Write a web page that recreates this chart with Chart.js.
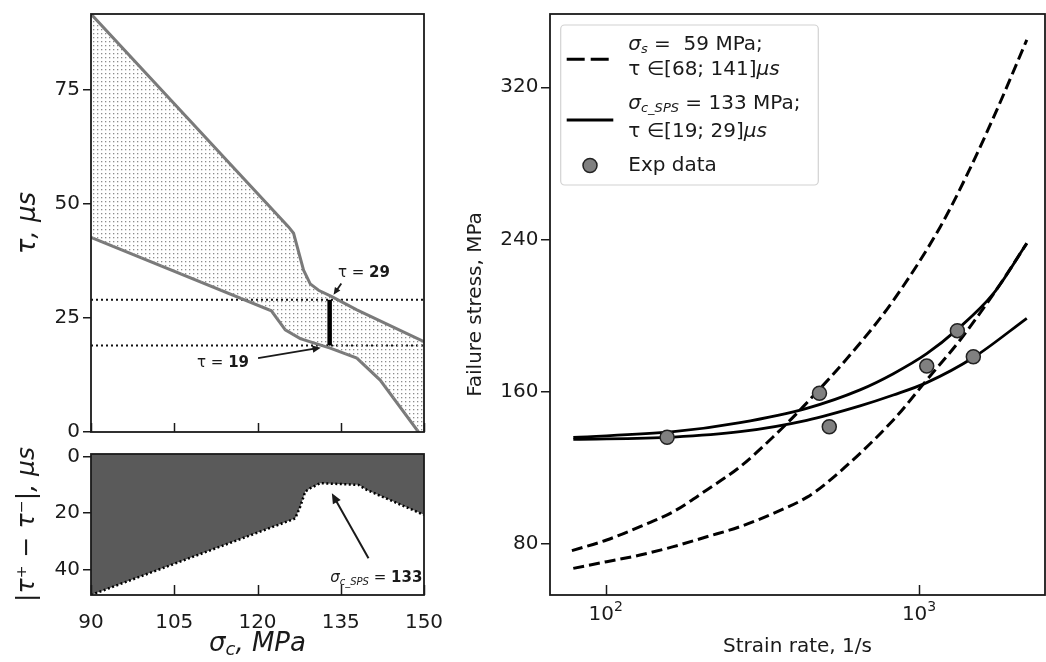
<!DOCTYPE html>
<html>
<head>
<meta charset="utf-8">
<script src="https://cdn.jsdelivr.net/npm/chart.js@4.4.1/dist/chart.umd.min.js"></script>
<style>
  html, body { margin: 0; padding: 0; background: #fff; }
  #wrap { position: relative; width: 1046px; height: 662px; overflow: hidden; }
  canvas { position: absolute; }
  #cTau  { left: 0; top: 0; }
  #cDiff { left: 0; top: 440px; }
  #cRate { left: 440px; top: 0; }
</style>
</head>
<body>
<div id="wrap">
  <canvas id="cRate" width="606" height="662" style="width:606px;height:662px"></canvas>
  <canvas id="cTau" width="440" height="440" style="width:440px;height:440px"></canvas>
  <canvas id="cDiff" width="460" height="222" style="width:460px;height:222px"></canvas>
</div>
<script>
// ---- tau(sigma_c) envelope, upper and lower branch ----
const sigmaUpper = [90, 125.6, 126.5, 128.3, 129.5, 131.0, 133.4, 137.9, 150];
const tauUpper   = [91.7, 45.0, 43.6, 35.5, 32.5, 31.1, 29.7, 26.8, 19.8];
const sigmaLower = [90, 122.5, 125.0, 127.7, 133.1, 137.9, 142.1, 149.0, 150];
const tauLower   = [42.7, 26.6, 22.4, 20.5, 18.4, 16.2, 11.4, 0, -1.4];
const tauMarks   = [19, 29];
const sigmaSPS   = 133;
const tauTicks   = [0, 25, 50, 75];

// ---- |tau+ - tau-| ----
const sigmaDiff  = [90, 126.5, 126.8, 127.7, 128.6, 129.5, 131.3, 138.2, 139.7, 150];
const tauDiff    = [48.9, 22.1, 21.8, 17.7, 12.4, 11.2, 9.4, 10.0, 11.8, 20.6];
const diffTicks  = [0, 20, 40];
const sigmaTicks = [90, 105, 120, 135, 150];

// ---- failure stress vs strain rate ----
const rateDashA   = [78, 100.7, 128.7, 164.4, 210.1, 268.4, 342.8, 427, 648, 828, 1167, 1437, 1770, 2207];
const stressDashA = [76.5, 82.1, 89.1, 97.0, 108.4, 120.6, 136.4, 152.2, 185.5, 208.0, 246.5, 275.5, 308.0, 344.9];
const rateDashB   = [78.8, 100.7, 128.7, 164.4, 210.1, 268.4, 342.8, 438, 506.6, 828, 1058, 1352, 1814, 2207];
const stressDashB = [67.2, 70.7, 74.2, 78.6, 83.8, 89.1, 96.1, 104.5, 112.0, 145.2, 166.2, 187.2, 216.5, 238.0];
const rateSolidA   = [78.8, 164.4, 268.4, 438, 648, 828, 1058, 1319, 1726, 2207];
const stressSolidA = [136.0, 139.0, 143.8, 151.3, 161.0, 169.5, 180.0, 192.5, 211.5, 238.0];
const rateSolidB   = [78.8, 164.4, 268.4, 438, 648, 828, 1058, 1491, 2207];
const stressSolidB = [135.0, 136.2, 139.0, 145.0, 152.6, 158.3, 164.8, 178.0, 198.6];
const rateExp   = [157, 481, 517, 1058, 1325, 1490];
const stressExp = [136.1, 159.2, 141.6, 173.5, 192.1, 178.4];
const stressTicks = [80, 160, 240, 320];
const rateTicks   = [100, 1000];

const FONT = '"DejaVu Sans", "Liberation Sans", sans-serif';
const INK = '#1a1a1a';

const pts = (xs, ys) => xs.map((x, i) => ({ x: x, y: ys[i] }));

// light dotted hatch for the envelope
function dotPattern() {
  const c = document.createElement('canvas');
  c.width = 4; c.height = 4;
  const g = c.getContext('2d');
  g.fillStyle = '#8c8c8c';
  g.fillRect(1, 1, 1.3, 1.3);
  return g.createPattern(c, 'repeat');
}

// text made of several runs (sub/superscripts, bold parts)
function richText(ctx, parts, x, y, align) {
  let w = 0;
  parts.forEach(p => { ctx.font = p[1]; w += ctx.measureText(p[0]).width; });
  let cx = align === 'center' ? x - w / 2 : align === 'right' ? x - w : x;
  ctx.textAlign = 'left';
  ctx.textBaseline = 'middle';
  parts.forEach(p => {
    ctx.font = p[1];
    ctx.fillText(p[0], cx, y + (p[2] || 0));
    cx += ctx.measureText(p[0]).width;
  });
}

function arrow(ctx, x1, y1, x2, y2, head) {
  const a = Math.atan2(y2 - y1, x2 - x1);
  ctx.beginPath();
  ctx.moveTo(x1, y1);
  ctx.lineTo(x2 - Math.cos(a) * head * 0.7, y2 - Math.sin(a) * head * 0.7);
  ctx.stroke();
  ctx.beginPath();
  ctx.moveTo(x2, y2);
  ctx.lineTo(x2 - head * Math.cos(a - 0.42), y2 - head * Math.sin(a - 0.42));
  ctx.lineTo(x2 - head * Math.cos(a + 0.42), y2 - head * Math.sin(a + 0.42));
  ctx.closePath();
  ctx.fill();
}

function frame(chart) {
  const { ctx, chartArea: a } = chart;
  ctx.save();
  ctx.strokeStyle = INK;
  ctx.lineWidth = 1.8;
  ctx.strokeRect(a.left, a.top, a.right - a.left, a.bottom - a.top);
  ctx.restore();
}

function innerTicks(chart, values, len) {
  const { ctx, chartArea: a, scales } = chart;
  ctx.save();
  ctx.strokeStyle = INK;
  ctx.lineWidth = 1.5;
  values.forEach(v => {
    const px = Math.round(scales.x.getPixelForValue(v)) + 0.5;
    ctx.beginPath();
    ctx.moveTo(px, a.bottom);
    ctx.lineTo(px, a.bottom - len);
    ctx.stroke();
  });
  ctx.restore();
}

// fixed axis boxes, no extra room for overhanging tick labels
const fixWidth = w => function (s) { s.width = w; s.paddingTop = s.paddingBottom = s.paddingLeft = s.paddingRight = 0; };
const fixHeight = h => function (s) { s.height = h; s.paddingTop = s.paddingBottom = s.paddingLeft = s.paddingRight = 0; };
const setTicks = list => function (s) { s.ticks = list.map(v => ({ value: v })); };
const tickFont = { family: FONT, size: 20 };
const outGrid = len => ({ drawOnChartArea: false, drawTicks: true, tickLength: len, color: INK, lineWidth: 1.5 });
const baseOpts = {
  responsive: false,
  animation: false,
  events: [],
  plugins: { legend: { display: false }, tooltip: { enabled: false } }
};

// ---------- upper left: tau envelope ----------
new Chart(document.getElementById('cTau'), {
  type: 'line',
  data: {
    datasets: [
      { data: pts([sigmaSPS, sigmaSPS], tauMarks), borderColor: '#000', borderWidth: 4.5 },
      { data: pts(sigmaUpper, tauUpper), borderColor: '#7a7a7a', borderWidth: 3,
        fill: '+1', backgroundColor: dotPattern() },
      { data: pts(sigmaLower, tauLower), borderColor: '#7a7a7a', borderWidth: 3 },
      { data: pts([90, 150], [tauMarks[1], tauMarks[1]]), borderColor: '#111', borderWidth: 2, borderDash: [2, 3] },
      { data: pts([90, 150], [tauMarks[0], tauMarks[0]]), borderColor: '#111', borderWidth: 2, borderDash: [2, 3] }
    ]
  },
  options: Object.assign({}, baseOpts, {
    elements: { point: { radius: 0 }, line: { tension: 0 } },
    layout: { autoPadding: false, padding: { top: 14, right: 16, left: 0, bottom: 0 } },
    scales: {
      x: { type: 'linear', min: 90, max: 150,
           ticks: { display: false }, grid: { display: false }, border: { display: false },
           afterFit: fixHeight(8) },
      y: { type: 'linear', min: 0, max: 91.7,
           afterBuildTicks: setTicks(tauTicks),
           ticks: { font: tickFont, color: INK, padding: 3 },
           grid: outGrid(8), border: { display: false },
           title: { display: true, text: 'τ, μs', color: INK,
                    font: { family: FONT, size: 26, style: 'italic' }, padding: { top: 13, bottom: 0 } },
           afterFit: fixWidth(91) }
    }
  }),
  plugins: [{
    id: 'tauNotes',
    afterDraw(chart) {
      const { ctx, scales: { x, y } } = chart;
      innerTicks(chart, sigmaTicks, 9);
      frame(chart);
      ctx.save();
      ctx.fillStyle = INK;
      ctx.strokeStyle = INK;
      ctx.lineWidth = 1.8;
      richText(ctx, [['τ = ', '15px ' + FONT], [String(tauMarks[1]), 'bold 15px ' + FONT]],
               x.getPixelForValue(134.5), y.getPixelForValue(34.9), 'left');
      arrow(ctx, x.getPixelForValue(135.1), y.getPixelForValue(32.6),
                 x.getPixelForValue(133.7), y.getPixelForValue(30.1), 8);
      richText(ctx, [['τ = ', '15px ' + FONT], [String(tauMarks[0]), 'bold 15px ' + FONT]],
               x.getPixelForValue(109.1), y.getPixelForValue(15.1), 'left');
      arrow(ctx, x.getPixelForValue(120.1), y.getPixelForValue(16.2),
                 x.getPixelForValue(131.4), y.getPixelForValue(18.5), 9);
      ctx.restore();
    }
  }]
});

// ---------- lower left: |tau+ - tau-| ----------
new Chart(document.getElementById('cDiff'), {
  type: 'line',
  data: {
    datasets: [
      { data: pts(sigmaDiff, tauDiff), borderColor: '#000', borderWidth: 2.5, borderDash: [2, 2.5],
        fill: { value: -0.9 }, backgroundColor: '#5a5a5a' }
    ]
  },
  options: Object.assign({}, baseOpts, {
    elements: { point: { radius: 0 }, line: { tension: 0 } },
    layout: { autoPadding: false, padding: { top: 14, right: 36, left: 0, bottom: 0 } },
    scales: {
      x: { type: 'linear', min: 90, max: 150,
           afterBuildTicks: setTicks(sigmaTicks),
           ticks: { font: tickFont, color: INK, padding: 8, maxRotation: 0 },
           grid: { display: false }, border: { display: false },
           afterFit: fixHeight(67) },
      y: { type: 'linear', min: -0.9, max: 48.9, reverse: true,
           afterBuildTicks: setTicks(diffTicks),
           ticks: { font: tickFont, color: INK, padding: 3 },
           grid: outGrid(8), border: { display: false },
           title: { display: true, text: '|τ⁺ − τ⁻|, μs', color: INK,
                    font: { family: FONT, size: 25, style: 'italic' }, padding: { top: 12, bottom: 0 } },
           afterFit: fixWidth(91) }
    }
  }),
  plugins: [{
    id: 'diffNotes',
    afterDraw(chart) {
      const { ctx, chartArea: a, scales: { x, y } } = chart;
      innerTicks(chart, sigmaTicks, 10);
      ctx.save();
      ctx.fillStyle = INK;
      ctx.strokeStyle = INK;
      ctx.lineWidth = 2;
      arrow(ctx, x.getPixelForValue(140.0), y.getPixelForValue(35.9),
                 x.getPixelForValue(133.4), y.getPixelForValue(13.0), 11);
      ctx.beginPath();
      ctx.rect(0, a.top, a.right, a.bottom - a.top);
      ctx.clip();
      richText(ctx, [['σ', 'italic 15px ' + FONT], ['c_SPS', 'italic 10px ' + FONT, 4],
                     [' = ', '15px ' + FONT], [String(sigmaSPS), 'bold 15px ' + FONT]],
               x.getPixelForValue(133.1), y.getPixelForValue(42.9), 'left');
      ctx.restore();
      frame(chart);
      // x axis title with subscript
      ctx.save();
      ctx.fillStyle = INK;
      richText(ctx, [['σ', 'italic 26px ' + FONT], ['c', 'italic 18px ' + FONT, 6],
                     [', MPa', 'italic 26px ' + FONT]],
               (a.left + a.right) / 2, 204, 'center');
      ctx.restore();
    }
  }]
});

// ---------- right: failure stress vs strain rate ----------
new Chart(document.getElementById('cRate'), {
  type: 'line',
  data: {
    datasets: [
      { type: 'scatter', data: pts(rateExp, stressExp), pointRadius: 7, pointBackgroundColor: '#808080',
        pointBorderColor: '#222', pointBorderWidth: 1.5, showLine: false },
      { data: pts(rateDashA, stressDashA), borderColor: '#000', borderWidth: 3, borderDash: [11, 5] },
      { data: pts(rateDashB, stressDashB), borderColor: '#000', borderWidth: 3, borderDash: [11, 5] },
      { data: pts(rateSolidA, stressSolidA), borderColor: '#000', borderWidth: 2.8 },
      { data: pts(rateSolidB, stressSolidB), borderColor: '#000', borderWidth: 2.8 }
    ]
  },
  options: Object.assign({}, baseOpts, {
    elements: { point: { radius: 0 }, line: { cubicInterpolationMode: 'monotone' } },
    layout: { autoPadding: false, padding: { top: 14, right: 1, left: 0, bottom: 0 } },
    scales: {
      x: { type: 'logarithmic', min: 66.4, max: 2523,
           ticks: { display: false }, grid: { display: false }, border: { display: false },
           title: { display: true, text: 'Strain rate, 1/s', color: INK,
                    font: { family: FONT, size: 20 }, padding: { top: 0, bottom: 3 } },
           afterFit: fixHeight(67) },
      y: { type: 'linear', min: 53.2, max: 358.5,
           afterBuildTicks: setTicks(stressTicks),
           ticks: { font: tickFont, color: INK, padding: 2.5 },
           grid: outGrid(9), border: { display: false },
           title: { display: true, text: 'Failure stress, MPa', color: INK,
                    font: { family: FONT, size: 20 }, padding: { top: 24, bottom: 0 } },
           afterFit: fixWidth(110) }
    }
  }),
  plugins: [{
    id: 'rateDecor',
    afterDraw(chart) {
      const { ctx, scales: { x } } = chart;
      innerTicks(chart, rateTicks, 10);
      frame(chart);
      ctx.save();
      ctx.fillStyle = INK;
      rateTicks.forEach(v => {
        richText(ctx, [['10', '20px ' + FONT], [String(Math.round(Math.log10(v))), '14px ' + FONT, -8]],
                 x.getPixelForValue(v), 615, 'center');
      });

      // legend box
      const L = 120.7, T = 25, W = 257.6, H = 160;
      ctx.fillStyle = 'rgba(255,255,255,0.85)';
      ctx.strokeStyle = '#d2d2d2';
      ctx.lineWidth = 1.2;
      ctx.beginPath();
      ctx.roundRect(L, T, W, H, 4);
      ctx.fill();
      ctx.stroke();

      ctx.strokeStyle = '#000';
      ctx.lineWidth = 3;
      ctx.setLineDash([18, 6]);
      ctx.beginPath(); ctx.moveTo(126.7, 59.3); ctx.lineTo(173.3, 59.3); ctx.stroke();
      ctx.setLineDash([]);
      ctx.beginPath(); ctx.moveTo(126.7, 120); ctx.lineTo(173.3, 120); ctx.stroke();
      ctx.fillStyle = '#808080';
      ctx.strokeStyle = '#222';
      ctx.lineWidth = 1.5;
      ctx.beginPath(); ctx.arc(150, 165.5, 7, 0, Math.PI * 2); ctx.fill(); ctx.stroke();

      ctx.fillStyle = INK;
      const tx = 188.3;
      const reg = '20px ' + FONT, it = 'italic 20px ' + FONT, sub = 'italic 13px ' + FONT;
      richText(ctx, [['σ', it], ['s', sub, 5], [' =  59 MPa;', reg]], tx, 45, 'left');
      richText(ctx, [['τ ∈[68; 141]', reg], ['μs', it]], tx, 69.3, 'left');
      richText(ctx, [['σ', it], ['c_SPS', sub, 5], [' = 133 MPa;', reg]], tx, 104, 'left');
      richText(ctx, [['τ ∈[19; 29]', reg], ['μs', it]], tx, 131.7, 'left');
      richText(ctx, [['Exp data', reg]], tx, 165.7, 'left');
      ctx.restore();
    }
  }]
});
</script>
</body>
</html>
